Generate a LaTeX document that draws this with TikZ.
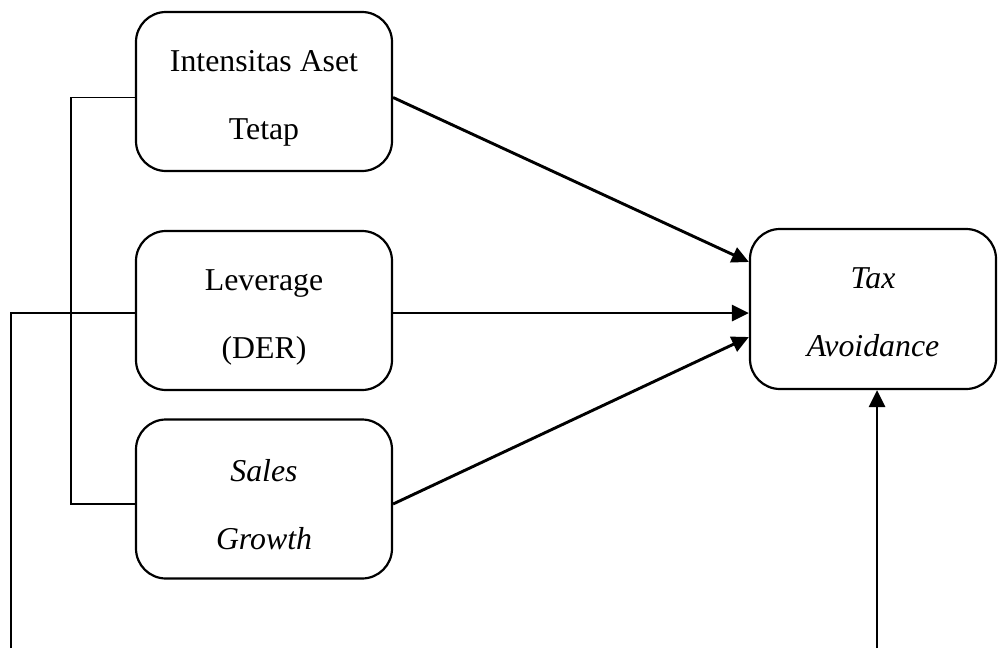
\documentclass[tikz,border=0pt]{standalone}
\usepackage{fontspec}
\setmainfont{Liberation Serif}
\usetikzlibrary{arrows.meta}
\newcommand{\dropA}{\rule{0pt}{34pt}}
\newcommand{\dropB}{\rule{0pt}{27pt}}
\begin{document}
\begin{tikzpicture}[x=1pt,y=-1pt,
  box/.style={draw, line width=2.2pt, rounded corners=30pt, minimum width=256pt,
    minimum height=159pt, align=center, inner sep=0pt,
    font=\fontsize{31.8}{68}\selectfont},
  link/.style={line width=1.9pt},
  arr/.style={line width=2.9pt, -{Triangle[length=17pt,width=16pt]}}]
\useasboundingbox (0,0) rectangle (998,648);
\node[box] (a) at (264,91.5) {\dropA Intensitas Aset\\Tetap};
\node[box] (b) at (264,310.5) {\dropA Leverage\\(DER)};
\node[box] (c) at (264,499) {\dropA\itshape Sales\\\itshape Growth};
\node[box, minimum width=246pt, minimum height=160pt] (d) at (873,309) {\dropB\itshape Tax\\\itshape Avoidance};
\coordinate (l) at (11,648);
\coordinate (v) at (877,648);
\draw[link] ([yshift=-6pt]a.west) -- ++(-64,0) |- ([yshift=-5pt]c.west);
\draw[link] (l) |- ([yshift=-2.5pt]b.west);
\draw[arr] ([yshift=-6pt]a.east) -- ([yshift=47pt]d.west);
\draw[arr] ([yshift=-2.5pt]b.east) -- ([yshift=-4pt]d.west);
\draw[arr] ([yshift=-5pt]c.east) -- ([yshift=-28pt]d.west);
\draw[arr] (v) -- (v |- d.south);
\end{tikzpicture}
\end{document}
